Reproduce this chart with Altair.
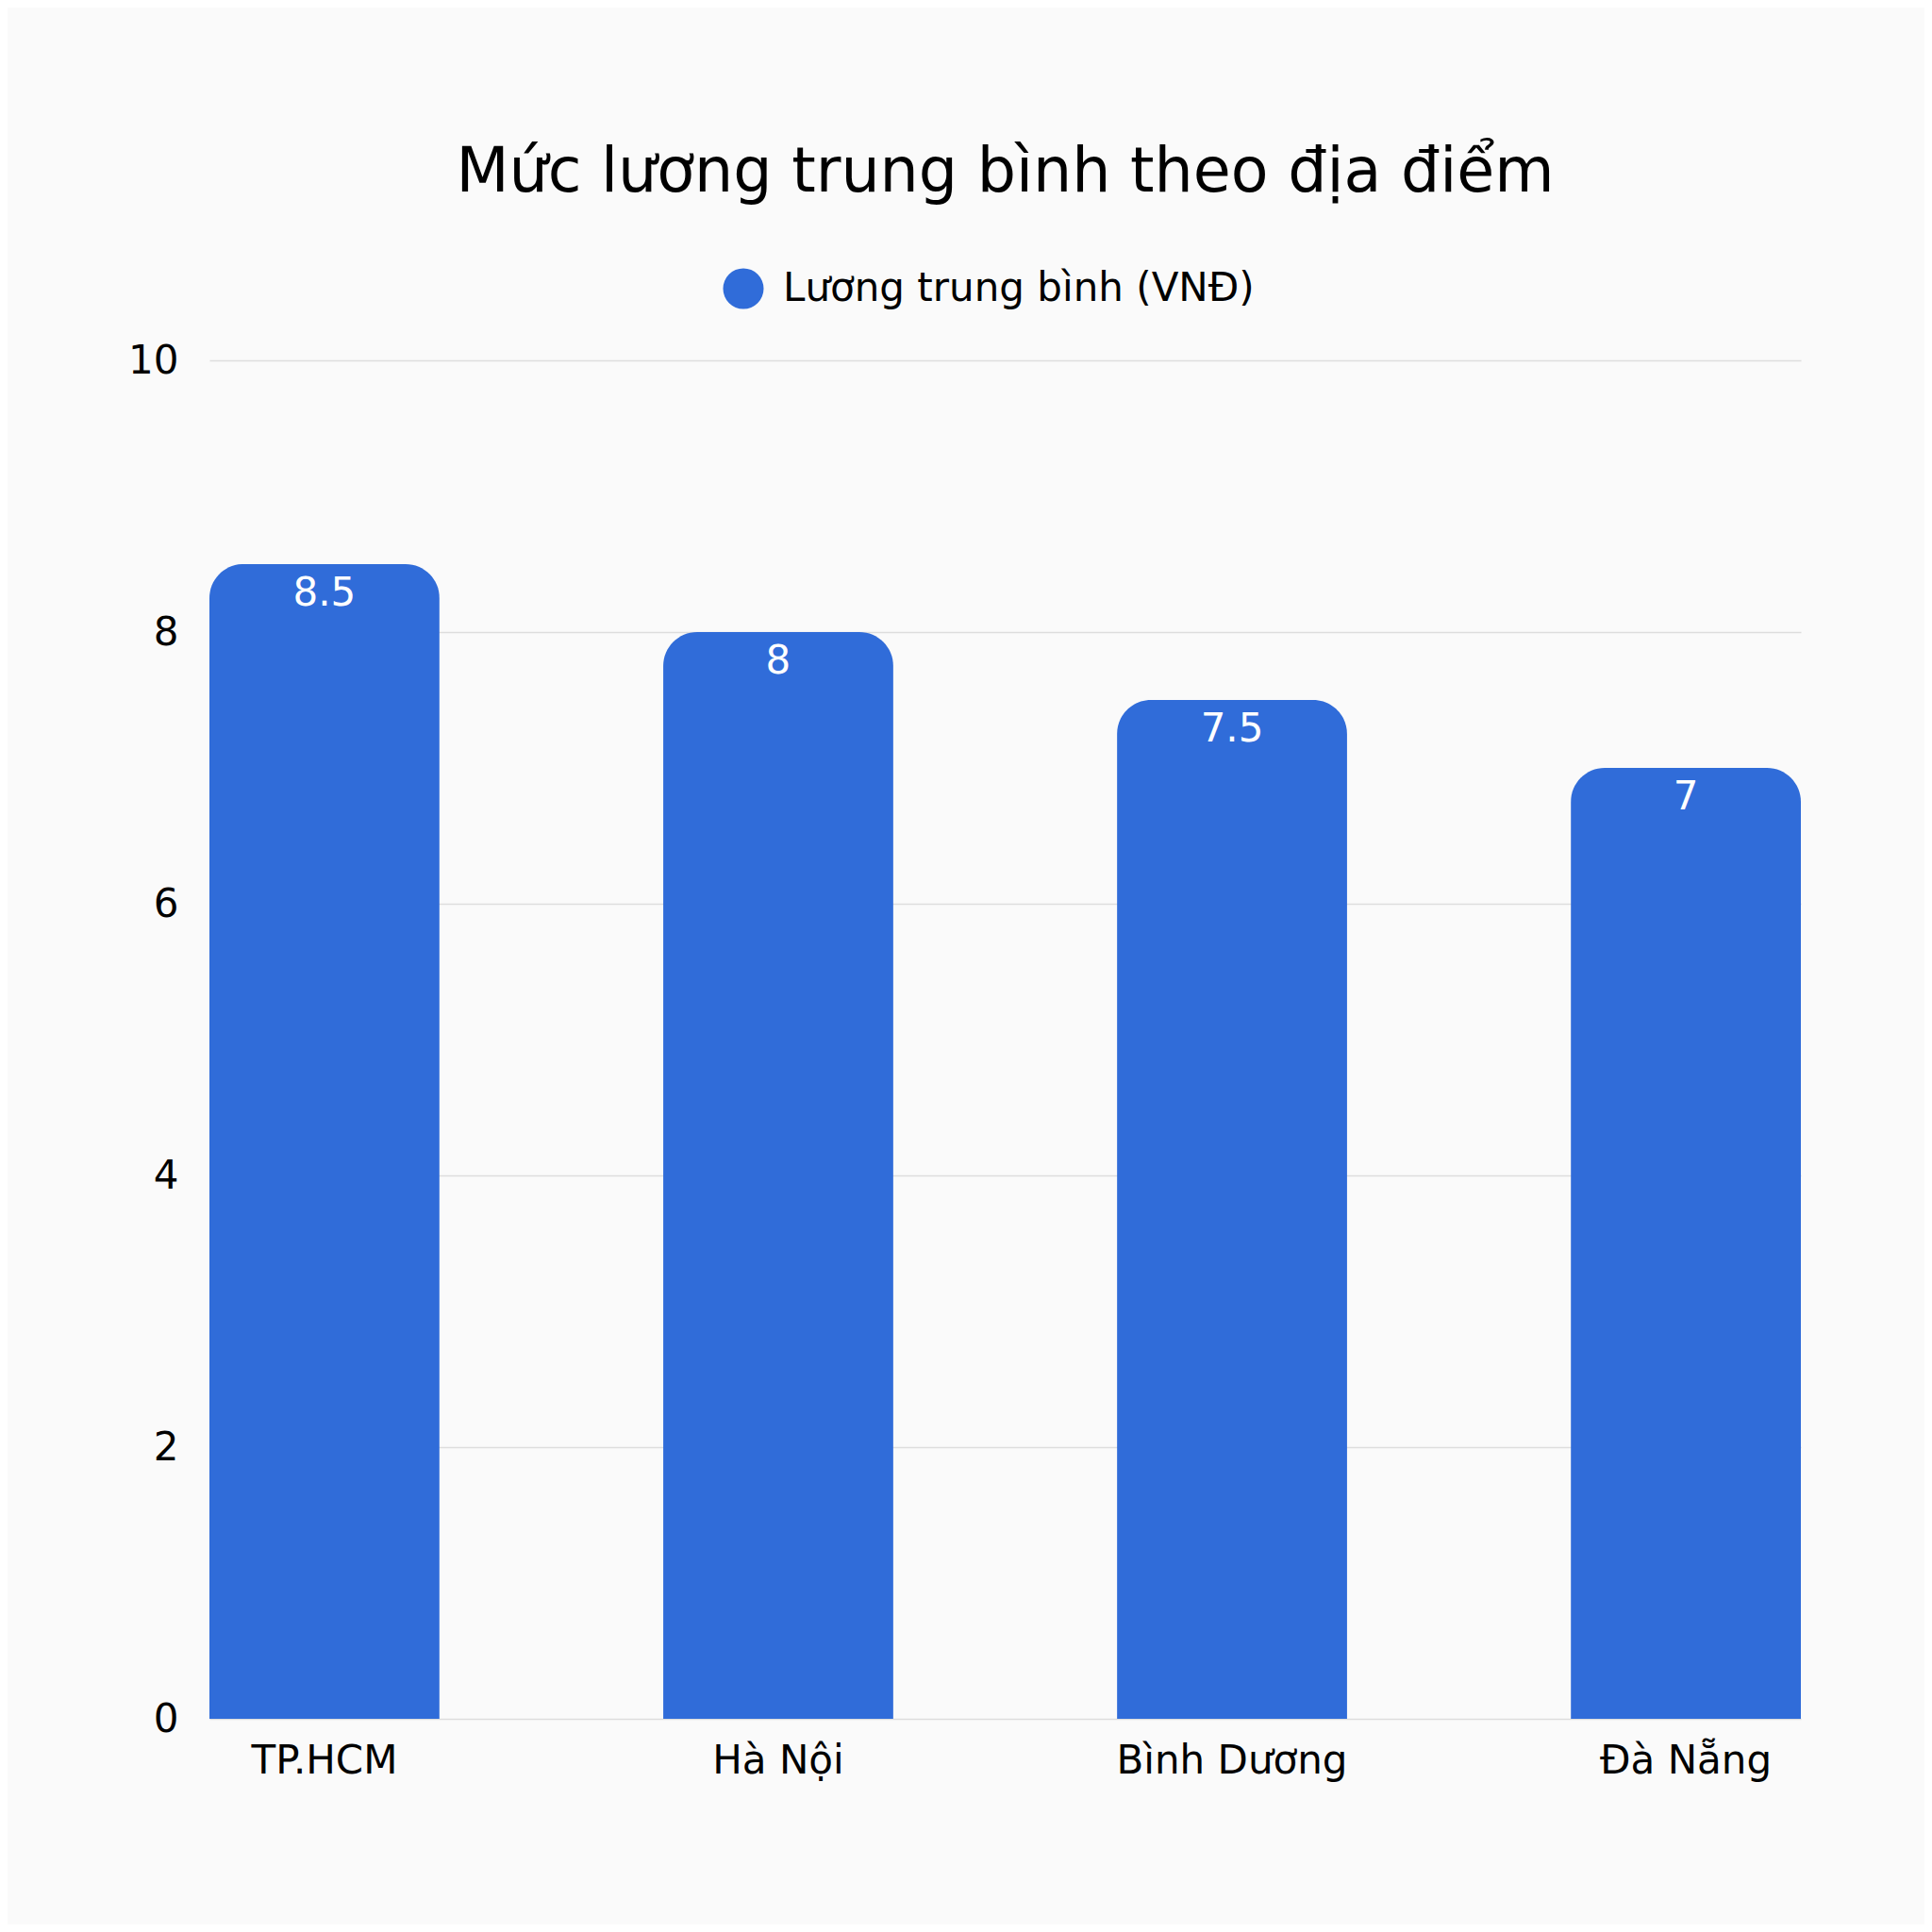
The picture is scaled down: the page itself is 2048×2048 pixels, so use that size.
import altair as alt
import pandas as pd

categories = ["TP.HCM", "Hà Nội", "Bình Dương", "Đà Nẵng"]
values = [8.5, 8, 7.5, 7]
series_name = "Lương trung bình (VNĐ)"
y_ticks = [0, 2, 4, 6, 8, 10]
title_text = "Mức lương trung bình theo địa điểm"

FONT = "DejaVu Sans"
BAR = "#306CD9"

df = pd.DataFrame({"city": categories, "value": values, "series": [series_name] * len(categories)})

x = alt.X("city:N", sort=categories, title=None,
          scale=alt.Scale(paddingInner=0.493, paddingOuter=0),
          axis=alt.Axis(labelAngle=0, ticks=False, tickSize=0, domain=False,
                        labelFontSize=42, labelColor="#000000", labelFont=FONT,
                        labelBaseline="alphabetic", labelPadding=57, labelLimit=1000))
y = alt.Y("value:Q", title=None,
          scale=alt.Scale(domain=[0, 10], nice=False),
          axis=alt.Axis(values=y_ticks, format="d", ticks=False, tickSize=0, domain=False,
                        labelFontSize=42, labelColor="#000000", labelFont=FONT,
                        labelPadding=33, gridColor="#DDDDDD", gridWidth=1.5))

bars = alt.Chart(df).mark_bar(cornerRadiusTopLeft=36, cornerRadiusTopRight=36).encode(
    x=x, y=y,
    color=alt.Color("series:N", scale=alt.Scale(range=[BAR]),
                    legend=alt.Legend(title=None, orient="none", legendX=544, legendY=-98,
                                      symbolType="circle", symbolSize=1850,
                                      symbolStrokeWidth=0, symbolOpacity=1,
                                      labelFontSize=42, labelFont=FONT, labelColor="#000000",
                                      labelOffset=20, labelLimit=1000)),
)

labels = alt.Chart(df).mark_text(color="white", fontSize=42, font=FONT,
                                 baseline="alphabetic", dy=44, align="center").encode(
    x=alt.X("city:N", sort=categories),
    y="value:Q",
    text=alt.Text("value:Q"),
)

chart = alt.layer(bars, labels).properties(
    width=1687, height=1440,
    title=alt.TitleParams(title_text, fontSize=65, font=FONT, fontWeight="normal",
                          color="#000000", anchor="middle", offset=67),
    autosize=alt.AutoSizeParams(type="none"),
    padding={"left": 214, "top": 374, "right": 131, "bottom": 218},
    background="#FAFAFA",
).configure_view(stroke=None)

chart.save("out.html", embed_options={"renderer": "svg", "actions": False})
